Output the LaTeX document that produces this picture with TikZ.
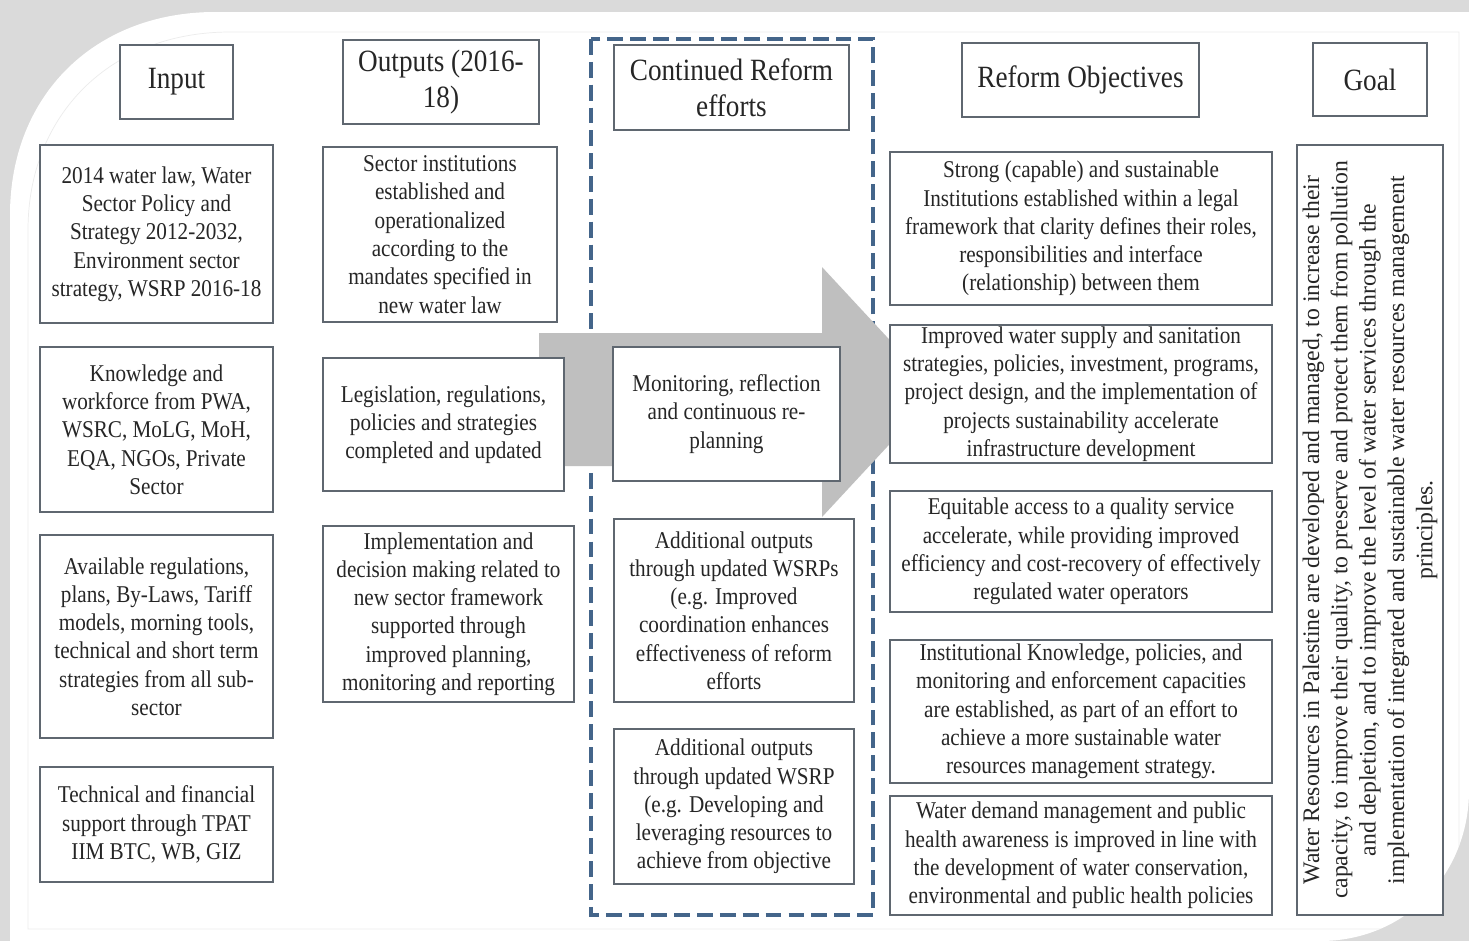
\documentclass[tikz,border=0pt]{standalone}
\usepackage{fontspec}
\setmainfont{Liberation Serif}[FakeStretch=0.88]
\newfontfamily\goalfont{Liberation Serif}
\usetikzlibrary{calc}

\definecolor{boxline}{HTML}{5F6770}
\definecolor{dashblue}{HTML}{44658A}
\definecolor{arrowgray}{HTML}{BFBFBF}
\definecolor{shadowgray}{HTML}{DADADA}

\tikzset{
  sz/.style 2 args={minimum width=#1*0.02cm, minimum height=#2*0.02cm},
  box/.style={draw=boxline, line width=0.8pt, fill=white, inner sep=0pt, align=center,
    text=black!85, font=\fontsize{13.7}{16.1}\selectfont},
  headbox/.style={box, font=\fontsize{17.6}{20.4}\selectfont},
  goalbox/.style={box, rotate=90, font=\goalfont\fontsize{13.5}{16.1}\selectfont},
}

\begin{document}
\begin{tikzpicture}[x=0.02cm, y=-0.02cm]
  % Boundary
  \useasboundingbox (0,0) rectangle (1469,941);
  % Card and shadow
  \fill[shadowgray] (0,0) rectangle (1469,941);
  \fill[white] (10,941) -- (10,215) .. controls (10,95) and (95,12) .. (215,12) -- (1469,12)
    -- (1469,790) .. controls (1469,875) and (1405,941) .. (1320,941) -- cycle;
  \begin{scope}
    \clip (10,941) -- (10,215) .. controls (10,95) and (95,12) .. (215,12) -- (1469,12)
      -- (1469,790) .. controls (1469,875) and (1405,941) .. (1320,941) -- cycle;
    \draw[gray!15] (28,929) -- (28,230) .. controls (28,115) and (110,32) .. (230,32)
      -- (1459,32) -- (1459,929) -- cycle;
  \end{scope}
  % Reform column
  \draw[dashblue, line width=2.3pt, dash pattern=on 9pt off 4pt] (591,39) rectangle (873,915);
  % Big arrow
  \fill[arrowgray] (539,333) -- (822,333) -- (822,267) -- (938,392) -- (822,517)
    -- (822,466) -- (539,466) -- cycle;
  % Input
  \node[headbox, sz={113}{74}] (hin) at (176.5,82) {Input};
  \node[box, sz={233}{178}] (in1) at (156.5,234) {2014 water law, Water\\Sector Policy and\\Strategy 2012-2032,\\Environment sector\\strategy, WSRP 2016-18};
  \node[box, sz={233}{165}] (in2) at (156.5,429.5) {Knowledge and\\workforce from PWA,\\WSRC, MoLG, MoH,\\EQA, NGOs, Private\\Sector};
  \node[box, sz={233}{203}] (in3) at (156.5,636.5) {Available regulations,\\plans, By-Laws, Tariff\\models, morning tools,\\technical and short term\\strategies from all sub-\\sector};
  \node[box, sz={233}{115}] (in4) at (156.5,824.5) {Technical and financial\\support through TPAT\\IIM BTC, WB, GIZ};
  % Outputs
  \node[headbox, sz={196}{84}] (hout) at (441,82) {Outputs (2016-\\18)};
  \node[box, sz={234}{175}] (out1) at (440,234.5) {Sector institutions\\established and\\operationalized\\according to the\\mandates specified in\\new water law};
  \node[box, sz={241}{133}] (out2) at (443.5,424.5) {Legislation, regulations,\\policies and strategies\\completed and updated};
  \node[box, sz={251}{176}] (out3) at (448.5,614) {Implementation and\\decision making related to\\new sector framework\\supported through\\improved planning,\\monitoring and reporting};
  % Continued reform efforts
  \node[headbox, sz={235}{85}] (href) at (731.5,87.5) {Continued Reform\\efforts};
  \node[box, sz={227}{134}] (ref1) at (726.5,414) {Monitoring, reflection\\and continuous re-\\planning};
  \node[box, sz={240}{183}] (ref2) at (734,610.5) {Additional outputs\\through updated WSRPs\\(e.g. Improved\\coordination enhances\\effectiveness of reform\\efforts};
  \node[box, sz={240}{155}] (ref3) at (734,806.5) {Additional outputs\\through updated WSRP\\(e.g. Developing and\\leveraging resources to\\achieve from objective};
  % Reform objectives
  \node[headbox, sz={237}{74}] (hobj) at (1080.5,80) {Reform Objectives};
  \node[box, sz={382}{153}] (obj1) at (1081,228.5) {Strong (capable) and sustainable\\Institutions established within a legal\\framework that clarity defines their roles,\\responsibilities and interface\\(relationship) between them};
  \node[box, sz={382}{138}] (obj2) at (1081,394) {Improved water supply and sanitation\\strategies, policies, investment, programs,\\project design, and the implementation of\\projects sustainability accelerate\\infrastructure development};
  \node[box, sz={382}{121}] (obj3) at (1081,551.5) {Equitable access to a quality service\\accelerate, while providing improved\\efficiency and cost-recovery of effectively\\regulated water operators};
  \node[box, sz={382}{143}] (obj4) at (1081,711.5) {Institutional Knowledge, policies, and\\monitoring and enforcement capacities\\are established, as part of an effort to\\achieve a more sustainable water\\resources management strategy.};
  \node[box, sz={382}{119}] (obj5) at (1081,855.5) {Water demand management and public\\health awareness is improved in line with\\the development of water conservation,\\environmental and public health policies};
  % Goal
  \node[headbox, sz={114}{73}] (hgoal) at (1370,79.5) {Goal};
  \node[goalbox, sz={770}{146}] (goal) at (1370,530) {Water Resources in Palestine are developed and managed, to increase their\\capacity, to improve their quality, to preserve and protect them from pollution\\and depletion, and to improve the level of water services through the\\implementation of integrated and sustainable water resources management\\principles.};
\end{tikzpicture}
\end{document}
